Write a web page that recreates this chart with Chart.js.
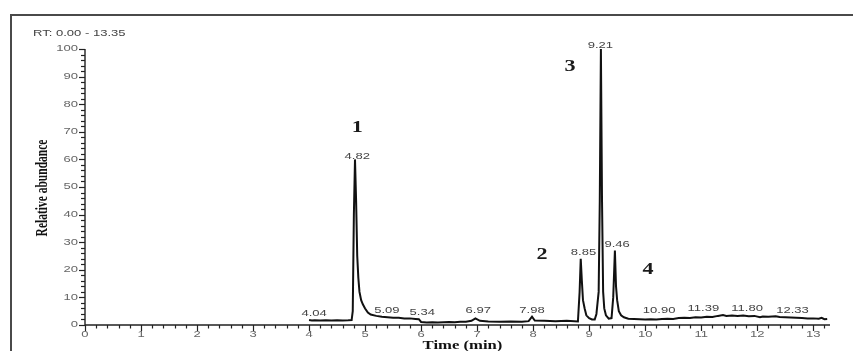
<!DOCTYPE html>
<html><head><meta charset="utf-8">
<script src="https://cdn.jsdelivr.net/npm/chart.js@4.4.0/dist/chart.umd.min.js"></script>
<style>html,body{margin:0;padding:0;background:#fff;overflow:hidden}#wrap{width:853px;height:351px;position:relative}</style>
</head><body><div id="wrap"><canvas id="c" width="853" height="351"></canvas></div>
<script>
// ---- data ----
const retentionTimes = [
  4.00,4.05,4.10,4.20,4.30,4.40,4.50,4.60,4.70,4.76,4.78,4.80,4.82,4.84,4.86,4.88,4.90,4.93,4.96,5.00,5.05,5.10,5.20,5.30,5.40,5.50,5.60,5.70,5.80,5.90,5.96,6.00,
  6.10,6.20,6.30,6.40,6.50,6.60,6.70,6.80,6.90,6.97,7.05,7.20,7.40,7.60,7.80,7.92,7.98,8.03,8.20,8.40,8.60,8.80,
  8.83,8.85,8.87,8.89,8.92,8.95,9.00,9.05,9.10,9.13,9.15,9.17,9.19,9.21,9.23,9.25,9.27,9.30,9.35,9.40,9.43,9.46,9.48,9.50,9.53,9.57,9.62,9.70,9.80,9.90,
  10.00,10.10,10.20,10.30,10.40,10.50,10.60,10.70,10.80,10.90,11.00,11.10,11.20,11.30,11.39,11.45,11.55,11.65,11.75,11.85,11.95,12.05,12.10,12.20,12.33,12.40,12.50,12.60,12.70,12.80,12.90,13.00,13.10,13.15,13.20,13.25
];
const abundance = [
  1.8,1.6,1.7,1.6,1.7,1.6,1.7,1.6,1.7,1.8,5,40,60,45,25,17,12,9,7.5,6,4.5,3.8,3.3,3.0,2.8,2.6,2.6,2.4,2.4,2.2,2.1,1.1,
  0.9,1.0,0.9,1.0,1.1,1.0,1.2,1.2,1.5,2.4,1.5,1.3,1.2,1.3,1.2,1.4,3.0,1.6,1.5,1.4,1.5,1.3,
  12,24,16,9,6,3.5,2.5,2,2,4,8,12,45,100,45,12,6,3.5,2.3,2.5,10,27,14,9,5,3.5,2.8,2.3,2.2,2.1,
  2.0,2.1,2.0,2.2,2.3,2.2,2.5,2.6,2.5,2.8,2.7,3.0,2.9,3.3,3.6,3.3,3.4,3.3,3.4,3.2,3.3,2.8,3.1,3.0,3.2,2.9,2.8,2.7,2.6,2.5,2.4,2.4,2.3,2.6,2.1,2.2
];
const xTickValues = [0,1,2,3,4,5,6,7,8,9,10,11,12,13];
const xTickLabels = ['0','1','2','3','4','5','6','7','8','9','10','11','12','13'];
const yTickValues = [0,10,20,30,40,50,60,70,80,90,100];
const yTickLabels = ['0','10','20','30','40','50','60','70','80','90','100'];
const rtRangeText = 'RT: 0.00 - 13.35';
const xTitle = 'Time (min)';
const yTitle = 'Relative abundance';
const peakLabels  = ['4.04','4.82','5.09','5.34','6.97','7.98','8.85','9.21','9.46','10.90','11.39','11.80','12.33'];
const peakLabelX  = [4.09, 4.86, 5.39, 6.02, 7.02, 7.98, 8.90, 9.20, 9.50, 10.25, 11.04, 11.82, 12.63];
const peakLabelY  = [4.0, 61.2, 5.4, 4.7, 5.1, 5.1, 26.1, 101.4, 29.0, 5.4, 5.8, 5.8, 5.4];
const compoundLabels = ['1','2','3','4'];
const compoundX = [4.86, 8.16, 8.66, 10.05];
const compoundY = [71.4, 25.4, 93.5, 19.9];

const STRETCH = 1.45;
function stretchedText(ctx, txt, x, y, font, color, align, sx) {
  ctx.save();
  ctx.font = font; ctx.fillStyle = color; ctx.textAlign = align; ctx.textBaseline = 'middle';
  ctx.translate(x, y); ctx.scale(sx, 1);
  ctx.fillText(txt, 0, 0);
  ctx.restore();
}

const decor = {
  id: 'decor',
  afterDraw(chart) {
    const ctx = chart.ctx, xs = chart.scales.x, ys = chart.scales.y;
    const a = chart.chartArea;
    const x0 = xs.getPixelForValue(0), y0 = ys.getPixelForValue(0);
    const sans = '9px "Liberation Sans", Arial, sans-serif';
    ctx.save();
    // frame
    ctx.strokeStyle = '#4a4a4a'; ctx.lineWidth = 2;
    ctx.beginPath(); ctx.moveTo(11, 351); ctx.lineTo(11, 15); ctx.lineTo(853, 15); ctx.stroke();
    // axes lines
    ctx.strokeStyle = '#222'; ctx.lineWidth = 1.4;
    ctx.beginPath(); ctx.moveTo(x0, ys.getPixelForValue(100)); ctx.lineTo(x0, y0); ctx.lineTo(a.right, y0); ctx.stroke();
    // y ticks
    ctx.lineWidth = 1.2;
    for (let v = 0; v <= 100; v += 2) {
      const p = Math.round(ys.getPixelForValue(v)) + 0.5;
      const len = (v % 10 === 0) ? 6 : 4;
      ctx.beginPath(); ctx.moveTo(x0 - len, p); ctx.lineTo(x0, p); ctx.stroke();
    }
    // x ticks
    for (let i = 0; i <= 66; i++) {
      const v = i * 0.2;
      const p = Math.round(xs.getPixelForValue(v)) + 0.5;
      const len = (i % 5 === 0) ? 6 : 3.5;
      ctx.beginPath(); ctx.moveTo(p, y0); ctx.lineTo(p, y0 + len); ctx.stroke();
    }
    // tick labels
    yTickValues.forEach((v, i) => {
      stretchedText(ctx, yTickLabels[i], x0 - 7, ys.getPixelForValue(v), sans, '#666', 'right', STRETCH);
    });
    xTickValues.forEach((v, i) => {
      stretchedText(ctx, xTickLabels[i], xs.getPixelForValue(v), y0 + 10, sans, '#666', 'center', STRETCH);
    });
    // RT text
    stretchedText(ctx, rtRangeText, 33, 34, sans, '#444', 'left', STRETCH);
    // axis titles
    stretchedText(ctx, xTitle, (xs.getPixelForValue(0) + xs.getPixelForValue(13.3)) / 2 + 5, 346, 'bold 11.5px "Liberation Serif", "Times New Roman", serif', '#111', 'center', STRETCH);
    ctx.save();
    ctx.translate(43, 188); ctx.scale(STRETCH, 1); ctx.rotate(-Math.PI / 2);
    ctx.font = 'bold 11.5px "Liberation Serif", "Times New Roman", serif'; ctx.fillStyle = '#111';
    ctx.textAlign = 'center'; ctx.textBaseline = 'middle';
    ctx.fillText(yTitle, 0, 0);
    ctx.restore();
    // peak labels
    peakLabels.forEach((t, i) => {
      stretchedText(ctx, t, xs.getPixelForValue(peakLabelX[i]), ys.getPixelForValue(peakLabelY[i]), sans, '#444', 'center', STRETCH);
    });
    // compound numbers
    compoundLabels.forEach((t, i) => {
      stretchedText(ctx, t, xs.getPixelForValue(compoundX[i]), ys.getPixelForValue(compoundY[i]), 'bold 17px "Liberation Serif", "Times New Roman", serif', '#1a1a1a', 'center', 1.3);
    });
    ctx.restore();
  }
};

new Chart(document.getElementById('c'), {
  type: 'line',
  data: {
    datasets: [{
      data: retentionTimes.map((t, i) => ({ x: t, y: abundance[i] })),
      borderColor: '#111', borderWidth: 2, pointRadius: 0, tension: 0, fill: false
    }]
  },
  options: {
    responsive: false, animation: false, devicePixelRatio: 1,
    layout: { padding: { left: 0, top: 49, right: 23, bottom: 0 } },
    plugins: { legend: { display: false }, tooltip: { enabled: false } },
    scales: {
      x: { type: 'linear', min: 0, max: 13.3,
           ticks: { display: false, stepSize: 1 }, grid: { display: false }, border: { display: false },
           afterFit: s => { s.height = 26; } },
      y: { type: 'linear', min: 0, max: 100,
           ticks: { display: false, stepSize: 10 }, grid: { display: false }, border: { display: false },
           afterFit: s => { s.width = 85; } }
    }
  },
  plugins: [decor]
});
</script>
</body></html>
